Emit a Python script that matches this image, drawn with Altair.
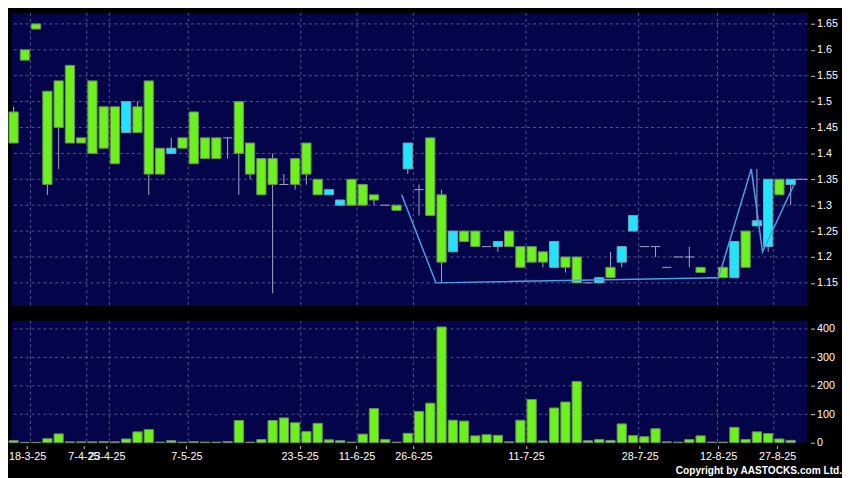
import altair as alt
import pandas as pd

# ---------------- data ----------------
open_ = [1.48, 1.60, 1.65, 1.52, 1.54, 1.57, 1.43, 1.54, 1.49, 1.49,
         1.44, 1.49, 1.54, 1.41, 1.40, 1.43, 1.48, 1.43, 1.43, 1.43,
         1.50, 1.42, 1.39, 1.39, 1.34, 1.39, 1.42, 1.35, 1.32, 1.30,
         1.35, 1.34, 1.32, 1.30, 1.30, 1.37, 1.33, 1.43, 1.32, 1.21,
         1.25, 1.25, 1.22, 1.22, 1.25, 1.22, 1.22, 1.21, 1.18, 1.20,
         1.20, 1.15, 1.15, 1.18, 1.19, 1.25, 1.22, 1.22, 1.18, 1.20,
         1.20, 1.18, 1.16, 1.18, 1.16, 1.25, 1.26, 1.22, 1.35, 1.34]
high = [1.49, 1.60, 1.65, 1.52, 1.54, 1.57, 1.43, 1.54, 1.49, 1.49,
        1.50, 1.50, 1.54, 1.41, 1.43, 1.43, 1.48, 1.43, 1.43, 1.43,
        1.50, 1.42, 1.39, 1.40, 1.36, 1.39, 1.42, 1.35, 1.33, 1.31,
        1.35, 1.34, 1.32, 1.30, 1.30, 1.42, 1.34, 1.43, 1.33, 1.25,
        1.25, 1.25, 1.22, 1.23, 1.25, 1.22, 1.22, 1.21, 1.23, 1.20,
        1.20, 1.15, 1.16, 1.21, 1.22, 1.28, 1.22, 1.22, 1.18, 1.20,
        1.22, 1.18, 1.16, 1.18, 1.23, 1.25, 1.37, 1.35, 1.35, 1.35]
low = [1.42, 1.58, 1.64, 1.32, 1.37, 1.42, 1.42, 1.40, 1.41, 1.38,
       1.44, 1.44, 1.32, 1.36, 1.40, 1.41, 1.38, 1.39, 1.39, 1.39,
       1.32, 1.35, 1.32, 1.13, 1.34, 1.33, 1.34, 1.32, 1.32, 1.30,
       1.30, 1.30, 1.30, 1.30, 1.29, 1.36, 1.28, 1.28, 1.15, 1.21,
       1.23, 1.22, 1.22, 1.21, 1.22, 1.18, 1.19, 1.18, 1.18, 1.17,
       1.15, 1.15, 1.15, 1.16, 1.18, 1.25, 1.22, 1.20, 1.18, 1.20,
       1.18, 1.17, 1.16, 1.16, 1.16, 1.18, 1.26, 1.21, 1.32, 1.30]
close = [1.42, 1.58, 1.64, 1.34, 1.45, 1.42, 1.42, 1.40, 1.41, 1.38,
         1.50, 1.44, 1.36, 1.36, 1.41, 1.41, 1.38, 1.39, 1.39, 1.43,
         1.40, 1.36, 1.32, 1.34, 1.34, 1.34, 1.36, 1.32, 1.33, 1.31,
         1.30, 1.30, 1.31, 1.30, 1.29, 1.42, 1.33, 1.28, 1.19, 1.25,
         1.23, 1.22, 1.22, 1.23, 1.22, 1.18, 1.19, 1.19, 1.23, 1.18,
         1.15, 1.15, 1.16, 1.16, 1.22, 1.28, 1.22, 1.22, 1.18, 1.20,
         1.20, 1.17, 1.16, 1.16, 1.23, 1.18, 1.27, 1.35, 1.32, 1.35]
volume = [7, 1, 1, 14, 31, 3, 3, 3, 4, 3,
          13, 38, 46, 2, 7, 2, 4, 2, 2, 4,
          78, 2, 11, 78, 87, 70, 39, 68, 10, 7,
          2, 30, 120, 11, 2, 33, 110, 139, 407, 79,
          76, 24, 28, 26, 3, 79, 152, 6, 122, 143,
          215, 7, 11, 8, 66, 25, 21, 49, 3, 2,
          11, 24, 2, 2, 54, 11, 38, 32, 13, 8]

date_labels = ["18-3-25", "7-4-25", "23-4-25", "7-5-25", "23-5-25", "11-6-25",
               "26-6-25", "11-7-25", "28-7-25", "12-8-25", "27-8-25"]
label_pos = [1.2, 6.2, 8.25, 15.35, 25.4, 30.45, 35.5, 45.5, 55.6, 62.55, 67.8]
grid_pos = [1.5, 6.5, 8.5, 15.5, 25.5, 30.5, 35.5, 45.5, 55.5, 62.5, 67.5]
price_ticks = [1.15, 1.2, 1.25, 1.3, 1.35, 1.4, 1.45, 1.5, 1.55, 1.6, 1.65]
vol_ticks = [0, 100, 200, 300, 400]

line_x = [34.46, 37.5, 62.6, 65.5, 66.5, 69.3]
line_y = [1.32, 1.15, 1.16, 1.37, 1.21, 1.34]

copyright_text = "Copyright by AASTOCKS.com Ltd."

# ---------------- styles ----------------
NAVY = "#04044a"
GRID = "#55558a"
GREEN = "#6cf01e"
GREEN_EDGE = "#6a8c58"
CYAN = "#22e4ff"
CYAN_EDGE = "#80a0b4"
WICK = "#a8a8c4"
LINE = "#4aa0e6"
TXT = "#ffffff"
FONT = "Liberation Sans"

W = 809
H_PRICE = 298
H_VOL = 124

n = len(close)
df = pd.DataFrame({"idx": list(range(n)), "open": open_, "high": high,
                   "low": low, "close": close, "vol": volume})
grid_x_df = pd.DataFrame({"g": grid_pos})
price_grid_df = pd.DataFrame({"p": price_ticks})
vol_grid_df = pd.DataFrame({"v": vol_ticks[1:]})
line_df = pd.DataFrame({"k": list(range(len(line_x))), "lx": line_x, "ly": line_y})
last_df = pd.DataFrame({"lx": [n - 1 + 0.41], "ly": [close[-1]]})
copy_df = pd.DataFrame({"t": [copyright_text]})

x_scale = alt.Scale(domain=[-0.148, 70.5], nice=False, zero=False)
p_scale = alt.Scale(domain=[1.1054, 1.6713], nice=False, zero=False)
v_scale = alt.Scale(domain=[0, 429], nice=False, zero=False)

label_expr = "[" + ",".join("'%s'" % s for s in date_labels) + "][indexof([" + \
    ",".join(str(v) for v in label_pos) + "], datum.value)]"

right_axis_common = dict(orient="right", domain=False, grid=False, tickColor="#c8c8c8",
                         tickSize=4, offset=3, labelPadding=2, labelColor=TXT,
                         labelFont=FONT, labelFontSize=11, title=None,
                         labelOverlap=False, labelBound=False, labelFlush=False)

base = alt.Chart(df).transform_calculate(
    x0="datum.idx - 0.41",
    x1="datum.idx + 0.41",
    dir="datum.close > datum.open ? 'up' : 'down'",
)

# ---------------- price panel ----------------
vgrid_p = alt.Chart(grid_x_df).mark_rule(color=GRID, strokeDash=[3, 3], strokeWidth=1).encode(
    x=alt.X("g:Q", scale=x_scale, axis=None))
hgrid_p = alt.Chart(price_grid_df).mark_rule(color=GRID, strokeDash=[3, 3], strokeWidth=1).encode(
    y=alt.Y("p:Q", scale=p_scale,
            axis=alt.Axis(values=price_ticks, tickCount=len(price_ticks), format=".2~f",
                          **right_axis_common)))

wicks = base.mark_rule(color=WICK, strokeWidth=1).encode(
    x=alt.X("idx:Q", scale=x_scale, axis=None),
    y=alt.Y("low:Q", scale=p_scale),
    y2="high:Q")

bodies = base.transform_filter("datum.open != datum.close").mark_rect(strokeWidth=1).encode(
    x=alt.X("x0:Q", scale=x_scale, axis=None),
    x2="x1:Q",
    y=alt.Y("open:Q", scale=p_scale),
    y2="close:Q",
    fill=alt.Fill("dir:N", scale=alt.Scale(domain=["up", "down"], range=[CYAN, GREEN]), legend=None),
    stroke=alt.Stroke("dir:N", scale=alt.Scale(domain=["up", "down"], range=[CYAN_EDGE, GREEN_EDGE]), legend=None),
)

dojis = base.transform_filter("datum.open == datum.close").mark_rule(color=WICK, strokeWidth=1).encode(
    x=alt.X("x0:Q", scale=x_scale, axis=None),
    x2="x1:Q",
    y=alt.Y("open:Q", scale=p_scale))

trend = alt.Chart(line_df).mark_line(color=LINE, strokeWidth=1.5).encode(
    x=alt.X("lx:Q", scale=x_scale, axis=None),
    y=alt.Y("ly:Q", scale=p_scale),
    order="k:Q")

last_line = alt.Chart(last_df).mark_rule(color=WICK, strokeWidth=1).encode(
    x=alt.X("lx:Q", scale=x_scale, axis=None),
    x2=alt.value(W),
    y=alt.Y("ly:Q", scale=p_scale))

price = alt.layer(hgrid_p, vgrid_p, wicks, bodies, dojis, trend, last_line).properties(
    width=W, height=H_PRICE)

# ---------------- volume panel ----------------
vgrid_v = alt.Chart(grid_x_df).mark_rule(color=GRID, strokeDash=[3, 3], strokeWidth=1).encode(
    x=alt.X("g:Q", scale=x_scale,
            axis=alt.Axis(values=label_pos, tickCount=len(label_pos), labelExpr=label_expr,
                          labelOverlap=False, labelFlush=False, labelBound=False,
                          domain=False, grid=False,
                          tickColor="#c8c8c8", tickSize=3, offset=3, labelPadding=2,
                          labelColor=TXT, labelFont=FONT, labelFontSize=11, title=None)))
hgrid_v = alt.Chart(vol_grid_df).mark_rule(color=GRID, strokeDash=[3, 3], strokeWidth=1).encode(
    y=alt.Y("v:Q", scale=v_scale,
            axis=alt.Axis(values=vol_ticks, tickCount=len(vol_ticks), format="d",
                          **right_axis_common)))

vbars = base.mark_bar(fill=GREEN, stroke=GREEN_EDGE, strokeWidth=1).encode(
    x=alt.X("x0:Q", scale=x_scale),
    x2="x1:Q",
    y=alt.Y("vol:Q", scale=v_scale),
    y2=alt.datum(0))

copy_txt = alt.Chart(copy_df).mark_text(
    align="right", baseline="alphabetic", font=FONT, fontSize=10.3, fontWeight="bold", color=TXT
).encode(text="t:N", x=alt.value(W + 35), y=alt.value(H_VOL + 32))

vol = alt.layer(hgrid_v, vgrid_v, vbars, copy_txt).properties(width=W, height=H_VOL)

chart = alt.vconcat(price, vol, spacing=13).properties(padding=0).configure(
    background="#000000"
).configure_view(fill=NAVY, stroke=None)

chart.save("out.html", embed_options={"renderer": "svg", "actions": False})
